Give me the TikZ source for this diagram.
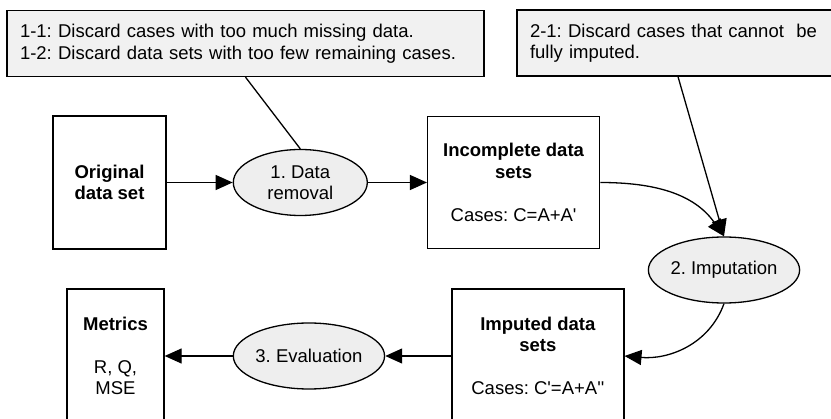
\documentclass[tikz,border=0pt]{standalone}
\usepackage{fontspec}
\newfontfamily\diagfont{Liberation Sans}
\usepackage{tikz}
\usetikzlibrary{shapes,arrows.meta,positioning}
\definecolor{notegray}{RGB}{241,241,241}
\definecolor{ovalgray}{RGB}{238,238,238}
\frenchspacing

\begin{document}
\begin{tikzpicture}[
    x=1pt, y=-1pt,
    font=\diagfont\fontsize{18.5}{21.5}\selectfont,
    box/.style={draw, rectangle, line width=1.3pt, align=center, inner sep=0pt},
    oval/.style={draw, ellipse, line width=1.3pt, fill=ovalgray, align=center,
        inner sep=0pt, minimum width=134pt, minimum height=66pt},
    note/.style={draw, rectangle, line width=1.3pt, fill=notegray, align=left,
        inner xsep=13pt, minimum height=66pt},
    arrow/.style={-{Triangle[length=17pt,width=15pt]}, line width=1.3pt},
    link/.style={line width=1.3pt}
]
\useasboundingbox (0,0) rectangle (831,419);
% Remarks on the two steps
\node[note, text width=451pt] (note1) at (245.5,43.5)
    {1-1: Discard cases with too much missing data.\\1-2: Discard data sets with too few remaining cases.};
\node[note, text width=290pt] (note2) at (675,43)
    {2-1: Discard cases that cannot\ \ be\\fully imputed.};
\coordinate (n2foot) at ([xshift=3pt]note2.south);

% Upper row
\node[box, minimum width=113pt, minimum height=133pt] (orig) at (109.5,182.5)
    {\textbf{Original}\\\textbf{data set}};
\node[oval, right=66pt of orig] (rem) {1. Data\\removal};
\node[box, minimum width=172pt, minimum height=132pt, right=59pt of rem] (incomp)
    {\textbf{Incomplete data}\\\textbf{sets}\\[21.5pt]Cases: C=A+A'};
\node[oval, minimum width=132pt] (imp) at (724,270) {2. Imputation};

% Lower row
\node[box, minimum width=97pt, minimum height=134pt] (metrics) at (115.5,356)
    {\textbf{Metrics}\\[21.5pt]R, Q,\\MSE};
\node[oval, right=68pt of metrics] (eval) {3. Evaluation};
\node[box, minimum width=172pt, minimum height=134pt, right=66pt of eval] (imputed)
    {\textbf{Imputed data}\\\textbf{sets}\\[21.5pt]Cases: C'=A+A''};

% Connections
\draw[link] (note1.south) -- (rem.north);
\draw[arrow] (n2foot) -- (imp.north);
\draw[arrow] (orig) -- (rem);
\draw[arrow] (rem) -- (incomp);
\draw[arrow] (incomp.east) to[out=0, in=125] (imp.north);
\draw[arrow] (imp.south) to[out=-110, in=-5] (imputed.east);
\draw[arrow] (imputed) -- (eval);
\draw[arrow] (eval) -- (metrics);
\end{tikzpicture}
\end{document}
